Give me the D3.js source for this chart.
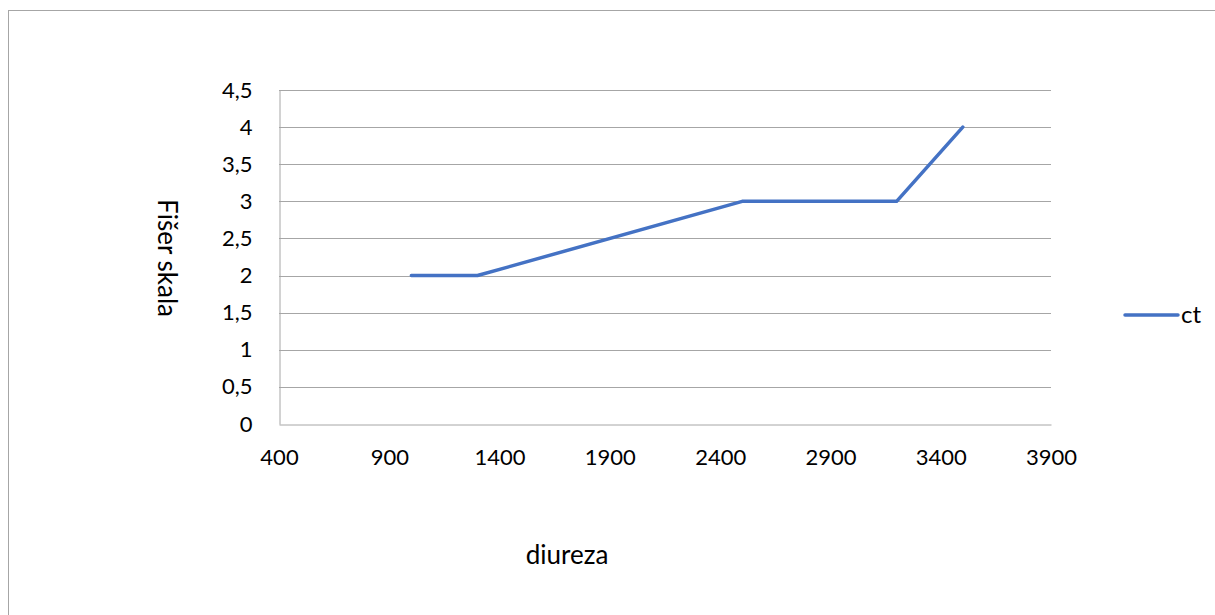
<!DOCTYPE html>
<html>
<head>
<meta charset="utf-8">
<script src="https://cdn.jsdelivr.net/npm/d3@7"></script>
<style>
  html, body { margin: 0; padding: 0; background: #fff; }
  svg { display: block; }
  text { font-family: Lato, "Open Sans", sans-serif; fill: #000; }
</style>
</head>
<body>
<svg id="chart" width="1215" height="615"></svg>
<script>
// Diuresis vs. Fisher scale, series "ct"
const diureza = [1000, 1300, 2500, 3200, 3500];
const fiser = [2, 2, 3, 3, 4];
const xTicks = [400, 900, 1400, 1900, 2400, 2900, 3400, 3900];
const yTicks = [0, 0.5, 1, 1.5, 2, 2.5, 3, 3.5, 4, 4.5];
const seriesName = "ct";

const svg = d3.select("#chart");
const plot = { left: 279, right: 1051, top: 90, bottom: 424 };
const x = d3.scaleLinear().domain([400, 3900]).range([plot.left, plot.right]);
const y = d3.scaleLinear().domain([0, 4.5]).range([plot.bottom, plot.top]);
const fmt = v => String(v).replace(".", ",");
const tickFont = "22px";
const titleFont = "26px";

// chart area frame
svg.append("rect")
  .attr("x", 8.5).attr("y", 10.5)
  .attr("width", 1240).attr("height", 640)
  .attr("fill", "none").attr("stroke", "#a6a6a6").attr("stroke-width", 1);

// horizontal gridlines
svg.append("g").selectAll("line").data(yTicks.filter(d => d > 0)).join("line")
  .attr("x1", plot.left).attr("x2", plot.right)
  .attr("y1", d => Math.round(y(d)) + 0.5).attr("y2", d => Math.round(y(d)) + 0.5)
  .attr("stroke", "#a6a6a6").attr("stroke-width", 1);

// y axis
const yAxis = svg.append("g")
  .attr("transform", `translate(${plot.left + 0.5},0)`)
  .call(d3.axisLeft(y).tickValues(yTicks).tickFormat(fmt).tickSize(0).tickPadding(27));
yAxis.select(".domain").attr("stroke", "#a6a6a6");
yAxis.selectAll("text").style("font-size", tickFont).style("font-family", "Lato, sans-serif");

// x axis
const xAxis = svg.append("g")
  .attr("transform", `translate(0,${Math.round(plot.bottom) + 0.5})`)
  .call(d3.axisBottom(x).tickValues(xTicks).tickFormat(d3.format("d")).tickSize(0).tickPadding(25));
xAxis.select(".domain").attr("stroke", "#a6a6a6");
xAxis.selectAll("text").style("font-size", tickFont).style("font-family", "Lato, sans-serif");

// data line
const line = d3.line().x((d, i) => x(diureza[i])).y(d => y(d));
svg.append("path")
  .datum(fiser)
  .attr("d", line)
  .attr("fill", "none")
  .attr("stroke", "#4472C4")
  .attr("stroke-width", 3.5)
  .attr("stroke-linejoin", "round")
  .attr("stroke-linecap", "round");

// axis titles
svg.append("text")
  .attr("x", 567).attr("y", 564)
  .attr("text-anchor", "middle")
  .style("font-size", titleFont)
  .text("diureza");

svg.append("text")
  .attr("transform", "translate(167,258) rotate(90)")
  .attr("text-anchor", "middle")
  .attr("dy", "0.35em")
  .style("font-size", titleFont)
  .text("Fišer skala");

// legend
const lg = svg.append("g").attr("transform", "translate(1125,315)");
lg.append("line").attr("x1", 0).attr("x2", 53).attr("y1", 0).attr("y2", 0)
  .attr("stroke", "#4472C4").attr("stroke-width", 3.5).attr("stroke-linecap", "round");
lg.append("text").attr("x", 56).attr("y", 0).attr("dy", "0.35em")
  .style("font-size", "24px").text(seriesName);
</script>
</body>
</html>
